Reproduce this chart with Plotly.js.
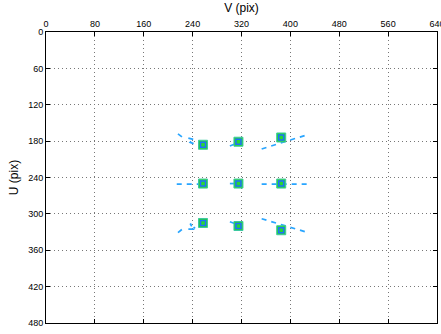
<!DOCTYPE html>
<html><head><meta charset="utf-8">
<script src="https://cdn.plot.ly/plotly-3.0.1.min.js"></script>
<style>html,body{margin:0;padding:0;background:#fff}#plot{width:441px;height:334px}</style>
</head><body><div id="plot"></div>
<script>
// detected points (V, U)
const pointsV = [257, 315, 385, 257, 315, 385, 257, 315, 385];
const pointsU = [186, 181, 174, 250, 250, 250, 315, 320, 327];
// dashed line segments (V pairs, U pairs), null separated
const lineV = [353, 426, null, 214, 252, null, 301, 311, null, 353, 427, null, 301, 309, null, 353, 426, null, 216, 229, null, 216, 227];
const lineU = [193, 170, null, 251, 251, null, 250, 250, null, 251, 251, null, 313, 316, null, 308, 330, null, 168, 178, null, 331, 322];
// small zig-zag strokes near left column
const zigV = [233, 241, 236, 244, null, 233, 241, 236, 244];
const zigU = [175, 177, 182, 185, null, 325, 325, 316, 324];
const midV = [301, 308];
const midU = [188, 185];
const xTicks = [0, 80, 160, 240, 320, 400, 480, 560, 640];
const yTicks = [0, 60, 120, 180, 240, 300, 360, 420, 480];

const lineColor = 'rgb(40,165,255)';
const traces = [
  {x: lineV, y: lineU, mode: 'lines', line: {color: lineColor, width: 1.7, dash: '5px,5px'}, hoverinfo: 'skip'},
  {x: zigV, y: zigU, mode: 'lines', line: {color: lineColor, width: 1.7, dash: '5px,3px'}, hoverinfo: 'skip'},
  {x: midV, y: midU, mode: 'lines', line: {color: lineColor, width: 1.7}, hoverinfo: 'skip'},
  {x: pointsV, y: pointsU, mode: 'markers', marker: {symbol: 'square', size: 9, color: 'rgb(40,215,50)', line: {color: 'rgb(60,200,160)', width: 1}}, hoverinfo: 'skip'},
  {x: pointsV, y: pointsU, mode: 'markers', marker: {symbol: 'square-open', size: 5, color: 'rgb(30,110,255)', line: {width: 1.5}}, hoverinfo: 'skip'}
];
const font = {family: 'Liberation Sans, Arial, sans-serif', size: 9, color: '#000'};
const layout = {
  width: 441, height: 334,
  margin: {l: 46, r: 4, t: 32, b: 11, pad: 0},
  showlegend: false,
  paper_bgcolor: '#fff', plot_bgcolor: '#fff',
  font: font,
  xaxis: {
    side: 'top', range: [0, 640], tickvals: xTicks, ticktext: xTicks.map(String),
    ticks: 'inside', ticklen: 4, tickcolor: '#000', showline: true, linecolor: '#000', linewidth: 1, mirror: 'ticks',
    showgrid: true, gridcolor: '#777', griddash: '1px,3px', gridwidth: 1, zeroline: false,
    tickfont: font, automargin: false, ticklabeloverflow: 'allow',
    title: {text: 'V (pix)', font: {family: 'Liberation Sans, Arial, sans-serif', size: 12, color: '#000'}, standoff: 4}
  },
  yaxis: {
    range: [480, 0], tickvals: yTicks, ticktext: yTicks.map(String),
    ticks: 'inside', ticklen: 4, tickcolor: '#000', showline: true, linecolor: '#000', linewidth: 1, mirror: 'ticks',
    showgrid: true, gridcolor: '#777', griddash: '1px,3px', gridwidth: 1, zeroline: false,
    tickfont: font, automargin: false, ticklabeloverflow: 'allow',
    title: {text: 'U (pix)', font: {family: 'Liberation Sans, Arial, sans-serif', size: 12, color: '#000'}, standoff: 6}
  }
};
Plotly.newPlot('plot', traces, layout, {staticPlot: true, displayModeBar: false});
</script></body></html>
